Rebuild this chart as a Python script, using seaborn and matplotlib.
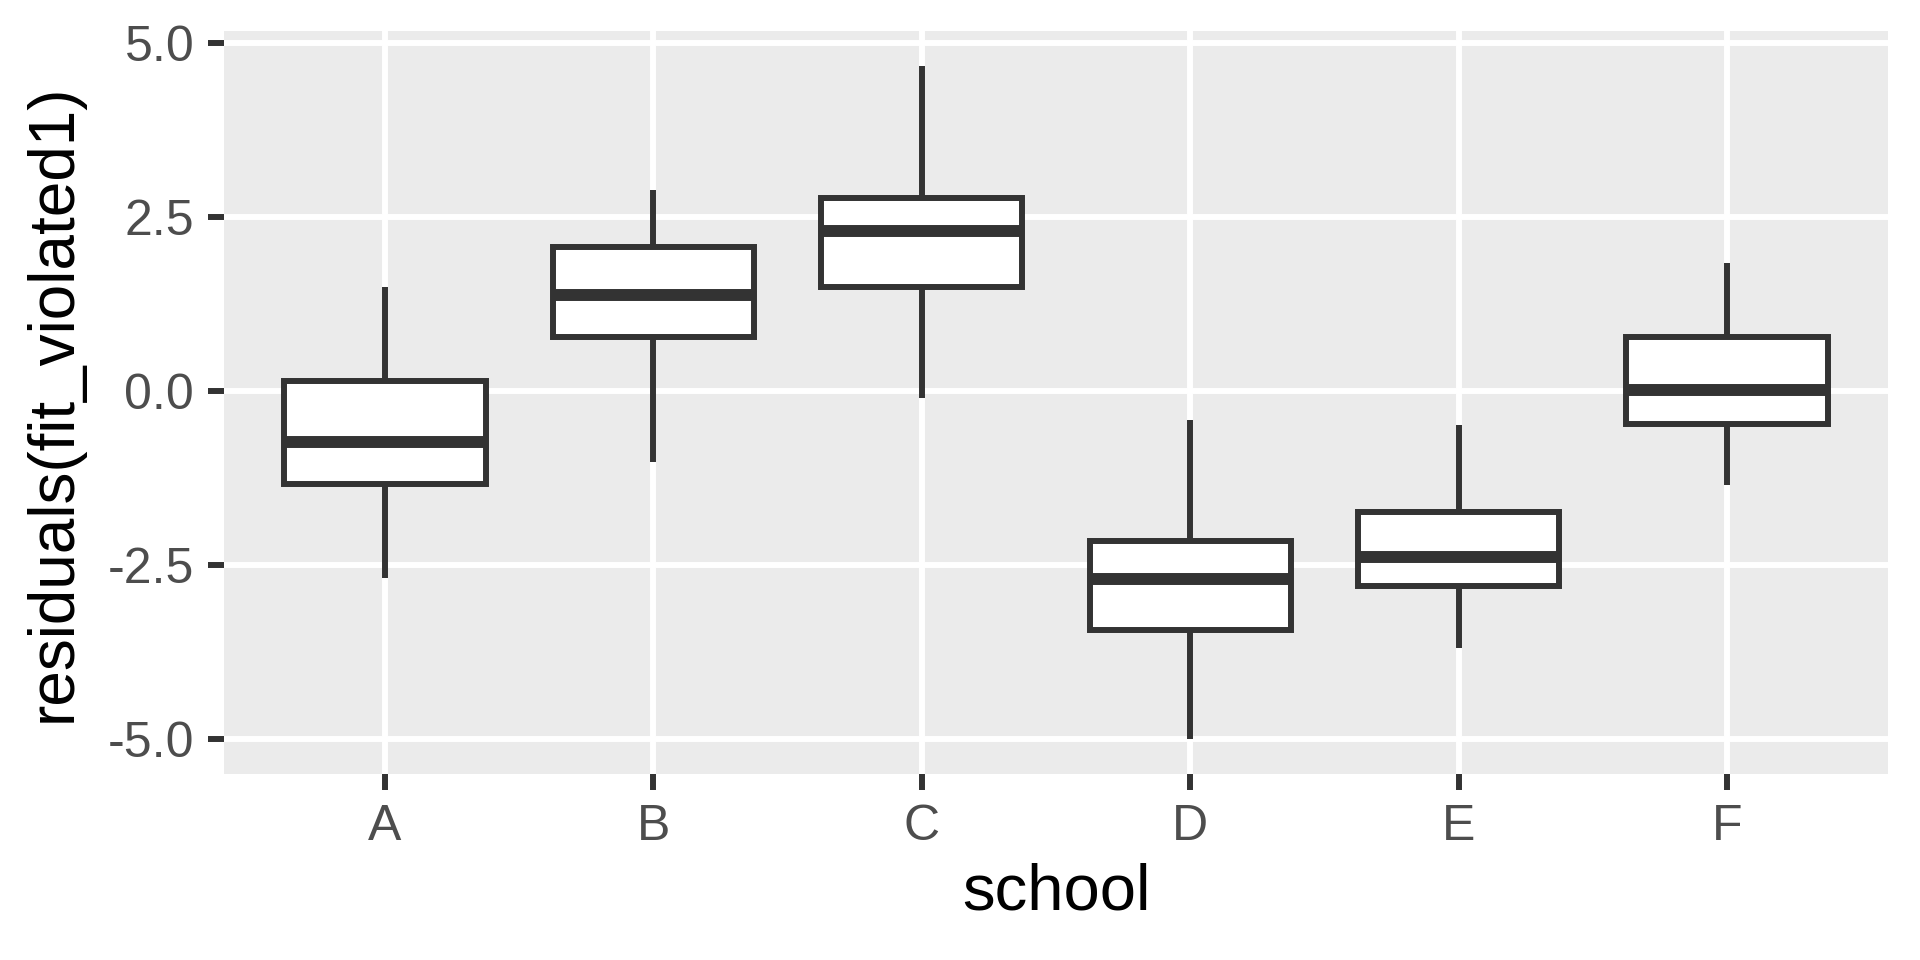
"""
Residual boxplots per school, ggplot-grey look.
"""

import numpy as np
import pandas as pd
import matplotlib
matplotlib.use("Agg")
import matplotlib.pyplot as plt
import seaborn as sns


# ── Data ──────────────────────────────────────────────────────────────────────

schools = ["A", "B", "C", "D", "E", "F"]
whisker_low = [-2.69, -1.02, -0.10, -5.00, -3.69, -1.35]
q1 = [-1.34, 0.77, 1.50, -3.43, -2.80, -0.47]
median = [-0.73, 1.38, 2.30, -2.70, -2.38, 0.01]
q3 = [0.14, 2.07, 2.77, -2.16, -1.74, 0.78]
whisker_high = [1.49, 2.88, 4.67, -0.42, -0.49, 1.84]

y_ticks = [-5.0, -2.5, 0.0, 2.5, 5.0]
y_tick_labels = ["-5.0", "-2.5", "0.0", "2.5", "5.0"]

# five points per school reproduce the five-number summary exactly
rows = []
for i, s in enumerate(schools):
    for v in (whisker_low[i], q1[i], median[i], q3[i], whisker_high[i]):
        rows.append({"school": s, "resid": v})
df = pd.DataFrame(rows)


# ── Style ─────────────────────────────────────────────────────────────────────

sns.set_theme(style="darkgrid", rc={
    "axes.facecolor": "#EBEBEB",
    "figure.facecolor": "white",
    "grid.color": "white",
    "grid.linewidth": 4.3,
    "axes.unicode_minus": False,
})
plt.rcParams["font.family"] = ["Liberation Sans", "DejaVu Sans"]

DARK = "#333333"

fig = plt.figure(figsize=(19.2, 9.6), dpi=100)
ax = fig.add_axes([0.1167, 0.1938, 0.8666, 0.7739])

sns.boxplot(
    data=df, x="school", y="resid", order=schools, ax=ax,
    whis=(0, 100), width=0.75, saturation=1, showcaps=False, fliersize=0,
    color="white", linecolor=DARK, linewidth=4.3,
    medianprops={"linewidth": 8.6, "color": DARK, "solid_capstyle": "butt"},
    boxprops={"facecolor": "white", "edgecolor": DARK},
    whiskerprops={"color": DARK, "solid_capstyle": "butt"},
)

ax.set_axisbelow(True)
ax.grid(True, which="major", color="white", linewidth=4.3)
for sp in ax.spines.values():
    sp.set_visible(False)

ax.set_xlim(-0.6, len(schools) - 0.4)
ax.set_ylim(-5.5, 5.17)
ax.set_yticks(y_ticks)
ax.set_yticklabels(y_tick_labels)

ax.tick_params(axis="both", which="major", length=11.5, width=4.3,
               color=DARK, labelcolor="#4D4D4D", labelsize=36, pad=10,
               bottom=True, left=True)

ax.set_xlabel("school", fontsize=47, color="black", labelpad=9)
ax.set_ylabel("residuals(fit_violated1)", fontsize=46, color="black",
              labelpad=17)

fig.savefig("out.png", dpi=100)
